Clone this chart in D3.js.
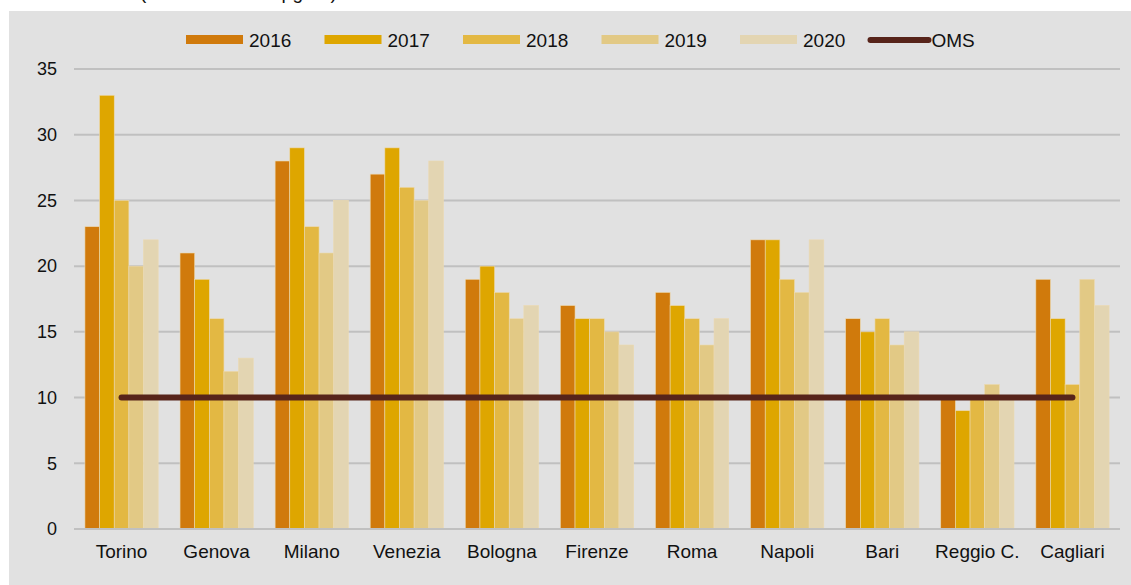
<!DOCTYPE html>
<html>
<head>
<meta charset="utf-8">
<script src="https://cdn.jsdelivr.net/npm/d3@7"></script>
<style>
  body { margin: 0; background: #fff; }
  svg text { font-family: "Liberation Sans", Arial, sans-serif; fill: #111; }
</style>
</head>
<body>
<svg id="chart"></svg>
<script>
const width = 1131;
const height = 585;

// Data
const cities = ["Torino", "Genova", "Milano", "Venezia", "Bologna", "Firenze", "Roma", "Napoli", "Bari", "Reggio C.", "Cagliari"];
const years = ["2016", "2017", "2018", "2019", "2020"];
const v2016 = [23, 21, 28, 27, 19, 17, 18, 22, 16, 10, 19];
const v2017 = [33, 19, 29, 29, 20, 16, 17, 22, 15, 9, 16];
const v2018 = [25, 16, 23, 26, 18, 16, 16, 19, 16, 10, 11];
const v2019 = [20, 12, 21, 25, 16, 15, 14, 18, 14, 11, 19];
const v2020 = [22, 13, 25, 28, 17, 14, 16, 22, 15, 10, 17];
const oms = 10;
const yTicks = [0, 5, 10, 15, 20, 25, 30, 35];

const series = [v2016, v2017, v2018, v2019, v2020];
const colors = ["#d07a0c", "#dea600", "#e3b843", "#e2c985", "#e3d5b2"];
const omsColor = "#57241a";

const svg = d3.select("#chart")
    .attr("width", width)
    .attr("height", height);

// Title (cut off at the top of the picture, only descenders show)
svg.append("text")
    .attr("x", 140)
    .attr("y", -1)
    .style("font-size", "19px")
    .text("(media annua in µg/m³)");

// Gray panel
svg.append("rect")
    .attr("x", 9)
    .attr("y", 11)
    .attr("width", width - 9)
    .attr("height", height - 11)
    .attr("fill", "#e1e1e1");

const margin = { left: 74, right: 11, top: 69, bottom: 56 };
const plotBottom = height - margin.bottom;

const x = d3.scaleBand()
    .domain(cities)
    .range([margin.left, width - margin.right])
    .paddingInner(0.23)
    .paddingOuter(0.115);

const xOuter = d3.scaleBand()
    .domain(cities)
    .range([margin.left, width - margin.right]);

const xInner = d3.scaleBand()
    .domain(years)
    .range([0, x.bandwidth()]);

const y = d3.scaleLinear()
    .domain([0, 35])
    .range([plotBottom, margin.top]);

// Gridlines
svg.append("g")
    .selectAll("line")
    .data(yTicks)
    .join("line")
    .attr("x1", margin.left)
    .attr("x2", width - margin.right)
    .attr("y1", d => y(d))
    .attr("y2", d => y(d))
    .attr("stroke", "#c0c0c0")
    .attr("stroke-width", 2);

// Y tick labels
svg.append("g")
    .selectAll("text")
    .data(yTicks)
    .join("text")
    .attr("x", 57)
    .attr("y", d => y(d))
    .attr("dy", "0.35em")
    .attr("text-anchor", "end")
    .style("font-size", "18px")
    .text(d => d);

// Bars
const groups = svg.append("g")
    .selectAll("g")
    .data(cities)
    .join("g")
    .attr("transform", d => `translate(${x(d)},0)`);

groups.selectAll("rect")
    .data((c, i) => years.map((yr, k) => ({ year: yr, k: k, value: series[k][i] })))
    .join("rect")
    .attr("x", d => xInner(d.year))
    .attr("width", xInner.bandwidth())
    .attr("y", d => y(d.value))
    .attr("height", d => y(0) - y(d.value))
    .attr("fill", d => colors[d.k])
    .attr("stroke", "#ecd9b0")
    .attr("stroke-width", 0.6);

// Baseline
svg.append("line")
    .attr("x1", margin.left)
    .attr("x2", width - margin.right)
    .attr("y1", y(0))
    .attr("y2", y(0))
    .attr("stroke", "#c0c0c0")
    .attr("stroke-width", 2);

// OMS line
const omsLine = d3.line()
    .x(d => xOuter(d) + xOuter.bandwidth() / 2)
    .y(() => y(oms));

svg.append("path")
    .datum([cities[0], cities[cities.length - 1]])
    .attr("d", omsLine)
    .attr("fill", "none")
    .attr("stroke", omsColor)
    .attr("stroke-width", 6)
    .attr("stroke-linecap", "round");

// Category labels
svg.append("g")
    .selectAll("text")
    .data(cities)
    .join("text")
    .attr("x", d => xOuter(d) + xOuter.bandwidth() / 2)
    .attr("y", 558)
    .attr("text-anchor", "middle")
    .style("font-size", "19px")
    .text(d => d);

// Legend
const legend = svg.append("g");
const legendX = d3.scaleLinear().domain([0, 1]).range([186, 324.5]);

years.forEach((yr, k) => {
    const lx = legendX(k);
    legend.append("rect")
        .attr("x", lx)
        .attr("y", 35)
        .attr("width", 57)
        .attr("height", 9)
        .attr("fill", colors[k]);
    legend.append("text")
        .attr("x", lx + 63)
        .attr("y", 47)
        .style("font-size", "19px")
        .text(yr);
});

const omsX = legendX(years.length);
legend.append("line")
    .attr("x1", omsX - 8)
    .attr("x2", omsX + 50)
    .attr("y1", 40)
    .attr("y2", 40)
    .attr("stroke", omsColor)
    .attr("stroke-width", 6)
    .attr("stroke-linecap", "round");
legend.append("text")
    .attr("x", omsX + 53)
    .attr("y", 47)
    .style("font-size", "19px")
    .text("OMS");
</script>
</body>
</html>
